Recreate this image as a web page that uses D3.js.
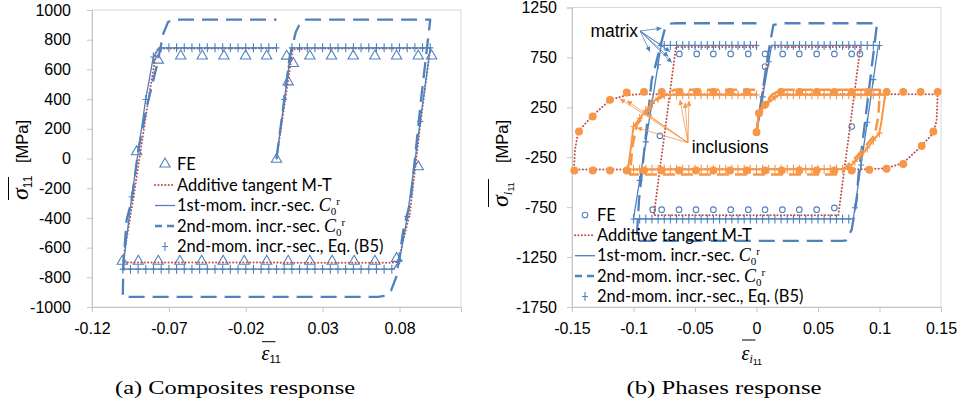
<!DOCTYPE html>
<html>
<head>
<meta charset="utf-8">
<script src="https://cdn.jsdelivr.net/npm/d3@7"></script>
<style>
  body { margin: 0; background: #fff; }
  svg { display: block; }
</style>
</head>
<body>
<svg id="chart" width="962" height="407"></svg>
<script>
// ---------- (a) composite response: [strain, stress MPa] ----------
const compFE = [
  [0,-5],[0.0076,516],[0.0109,640],
  [0.0217,690],[0.0358,690],[0.0499,690],[0.064,690],[0.0781,690],[0.0922,690],[0.1009,690],
  [0.0922,-56],[0.0781,-673],
  [0.064,-692],[0.0505,-692],[0.0362,-692],[0.0217,-692],[0.0076,-692],[-0.0064,-692],[-0.021,-692],
  [-0.0347,-692],[-0.0487,-692],[-0.0628,-692],[-0.0769,-692],[-0.0899,-692],[-0.1003,-692],
  [-0.091,45],[-0.0769,662],
  [-0.0623,690],[-0.0483,690],[-0.0342,690],[-0.0201,690],[-0.0064,690],[0.0066,689]
];
const compMT = [
  [0,0],[0.0105,735],[0.02,740],[0.1,742],[0.0937,246],[0.0867,-370],[0.079,-696],[0.074,-702],
  [-0.1,-700],[-0.093,-258],[-0.0834,393],[-0.078,729],[-0.0765,740],[0,742]
];
const comp1st = [
  [0,0],[0.0096,745],[0.1,745],[0.0935,250],[0.0851,-390],[0.0801,-684],[0.0765,-742],[0.075,-745],
  [-0.1,-745],[-0.0942,-258],[-0.0851,397],[-0.0801,684],[-0.0765,742],[-0.075,745],[0,745]
];
const comp2nd = [
  [0,0],[0.005,395],[0.0085,680],[0.0125,850],[0.0155,915],[0.019,935],[0.1,935],
  [0.094,395],[0.0872,-283],[0.0825,-483],[0.0779,-797],[0.0745,-890],[0.0705,-925],[0.066,-932],
  [-0.1,-932],[-0.0995,-700],[-0.0975,-415],[-0.0942,-281],[-0.0899,56],[-0.0844,347],[-0.078,617],
  [-0.0736,842],[-0.0705,920],[-0.066,935],[0,935]
];
const compB5 = [
  [0.005,397],
  [0.010,745],[0.015,745],[0.020,745],[0.025,745],[0.030,745],[0.035,745],[0.040,745],[0.045,745],
  [0.050,745],[0.055,745],[0.060,745],[0.065,745],[0.070,745],[0.075,745],[0.080,745],[0.085,745],
  [0.090,745],[0.095,745],[0.100,745],
  [0.0935,250],[0.0851,-390],[0.0801,-684],
  [0.075,-745],[0.070,-745],[0.065,-745],[0.060,-745],[0.055,-745],[0.050,-745],[0.045,-745],[0.040,-745],
  [0.035,-745],[0.030,-745],[0.025,-745],[0.020,-745],[0.015,-745],[0.010,-745],[0.005,-745],[0.000,-745],
  [-0.005,-745],[-0.010,-745],[-0.015,-745],[-0.020,-745],[-0.025,-745],[-0.030,-745],[-0.035,-745],
  [-0.040,-745],[-0.045,-745],[-0.050,-745],[-0.055,-745],[-0.060,-745],[-0.065,-745],[-0.070,-745],
  [-0.075,-745],[-0.080,-745],[-0.085,-745],[-0.090,-745],[-0.095,-745],[-0.100,-745],
  [-0.0942,-258],[-0.0851,397],[-0.0801,684],
  [-0.075,745],[-0.070,745],[-0.065,745],[-0.060,745],[-0.055,745],[-0.050,745],[-0.045,745],[-0.040,745],
  [-0.035,745],[-0.030,745],[-0.025,745],[-0.020,745],[-0.015,745],[-0.010,745],[-0.005,745],[0.000,745]
];

// ---------- (b) phase responses: matrix ----------
const matFE = [
  [0,0],[0.0069,658],
  [-0.0627,785],[-0.0486,785],[-0.0351,785],[-0.021,785],[-0.0067,785],[0.0069,785],[0.0213,785],
  [0.0348,785],[0.0489,785],[0.0633,785],[0.0774,785],[0.0841,785],
  [0.0774,58],[0.0633,-758],
  [0.0489,-775],[0.0348,-775],[0.021,-775],[0.0069,-775],[-0.0067,-775],[-0.021,-775],[-0.0351,-775],
  [-0.0492,-775],[-0.063,-775],[-0.0771,-775],[-0.0844,-775],
  [-0.0785,-35]
];
const matMT = [
  [0,0],[0.0105,855],[0.0845,855],[0.0665,-832],[-0.0835,-832],[-0.0655,855],[0,855]
];
const mat1st = [
  [0,0],[0.0123,870],[0.099,870],[0.0787,-868],[-0.1,-868],[-0.0775,870],[0,870]
];
const mat2nd = [
  [0,0],[0.0096,792],[0.0137,1075],[0.0205,1092],[0.098,1092],[0.0977,1058],[0.0828,-442],
  [0.0815,-675],[0.0774,-975],[0.073,-1082],[0.07,-1087],[-0.0975,-1087],[-0.0955,-675],
  [-0.0852,524],[-0.0744,1042],[-0.0703,1088],[-0.067,1092],[0,1092]
];
const matB5 = [
  [0.005,355],[0.010,707],
  [0.015,870],[0.020,870],[0.025,870],[0.030,870],[0.035,870],[0.040,870],[0.045,870],[0.050,870],
  [0.055,870],[0.060,870],[0.065,870],[0.070,870],[0.075,870],[0.080,870],[0.085,870],[0.090,870],
  [0.095,870],[0.100,870],
  [0.095,528],[0.090,100],[0.085,-328],[0.080,-756],
  [0.075,-868],[0.070,-868],[0.065,-868],[0.060,-868],[0.055,-868],[0.050,-868],[0.045,-868],[0.040,-868],
  [0.035,-868],[0.030,-868],[0.025,-868],[0.020,-868],[0.015,-868],[0.010,-868],[0.005,-868],[0.000,-868],
  [-0.005,-868],[-0.010,-868],[-0.015,-868],[-0.020,-868],[-0.025,-868],[-0.030,-868],[-0.035,-868],
  [-0.040,-868],[-0.045,-868],[-0.050,-868],[-0.055,-868],[-0.060,-868],[-0.065,-868],[-0.070,-868],
  [-0.075,-868],[-0.080,-868],[-0.085,-868],[-0.090,-868],[-0.095,-868],[-0.100,-868],
  [-0.095,-482],[-0.090,-96],[-0.085,290],[-0.080,676],
  [-0.075,870],[-0.070,870],[-0.065,870],[-0.060,870],[-0.055,870],[-0.050,870],[-0.045,870],[-0.040,870],
  [-0.035,870],[-0.030,870],[-0.025,870],[-0.020,870],[-0.015,870],[-0.010,870],[-0.005,870],[0.000,870]
];

// ---------- (b) phase responses: inclusions ----------
const incFE = [
  [0,0],[0.002,190],[0.0069,275],
  [0.0199,405],[0.0348,405],[0.0489,405],[0.0633,405],[0.0774,405],[0.0909,405],[0.1058,405],
  [0.1193,405],[0.1334,405],[0.1473,405],
  [0.1438,8],[0.1343,-137],[0.1193,-317],
  [0.1058,-365],[0.0917,-375],[0.0774,-382],[0.0633,-382],[0.0489,-382],[0.0348,-382],[0.0205,-382],
  [0.0069,-382],[-0.0079,-382],[-0.0215,-382],[-0.0351,-382],[-0.0492,-382],[-0.063,-382],
  [-0.0771,-382],[-0.0915,-382],[-0.1055,-382],[-0.1191,-382],[-0.1331,-382],[-0.1481,-382],
  [-0.1443,8],[-0.1332,158],[-0.1191,325],[-0.1055,398],
  [-0.0915,405],[-0.0771,405],[-0.0628,405],[-0.0486,405],[-0.0351,405],[-0.0215,405],[-0.0079,405]
];
const incMT = [
  [0,0],[0.002,190],[0.0069,285],[0.015,360],[0.022,380],[0.1473,380],[0.1465,125],[0.1438,-8],
  [0.133,-150],[0.1193,-308],[0.1058,-360],[0.09,-370],[-0.1484,-372],[-0.1476,-175],[-0.1449,8],
  [-0.134,158],[-0.119,325],[-0.1055,373],[-0.095,380],[0,380]
];
const inc1st = [
  [0,0],[0.002,190],[0.0069,275],[0.0183,375],[0.1045,375],[0.1018,125],[0.0998,-8],[0.088,-190],
  [0.076,-342],[0.072,-368],[-0.1045,-372],[-0.1018,-125],[-0.1,58],[-0.0907,208],[-0.0839,308],
  [-0.0763,372],[-0.072,375],[0,375]
];
const inc2nd = [
  [0,0],[0.002,190],[0.0069,290],[0.013,380],[0.02,425],[0.1004,425],[0.099,150],[0.096,-30],
  [0.0815,-242],[0.0733,-342],[0.069,-410],[0.065,-422],[-0.1028,-422],[-0.101,-150],[-0.0974,75],
  [-0.0811,325],[-0.0703,400],[-0.067,425],[0,425]
];
const incB5 = [
  [0.005,245],[0.010,310],[0.015,355],
  [0.020,375],[0.025,375],[0.030,375],[0.035,375],[0.040,375],[0.045,375],[0.050,375],[0.055,375],
  [0.060,375],[0.065,375],[0.070,375],[0.075,375],[0.080,375],[0.085,375],[0.090,375],[0.095,375],
  [0.100,375],[0.105,375],
  [0.100,-8],[0.095,-82],[0.090,-158],[0.085,-228],[0.080,-291],[0.075,-349],
  [0.070,-370],[0.065,-370],[0.060,-370],[0.055,-370],[0.050,-370],[0.045,-370],[0.040,-370],[0.035,-370],
  [0.030,-370],[0.025,-370],[0.020,-370],[0.015,-370],[0.010,-370],[0.005,-370],[0.000,-370],
  [-0.005,-370],[-0.010,-370],[-0.015,-370],[-0.020,-370],[-0.025,-370],[-0.030,-370],[-0.035,-370],
  [-0.040,-370],[-0.045,-370],[-0.050,-370],[-0.055,-370],[-0.060,-370],[-0.065,-370],[-0.070,-370],
  [-0.075,-370],[-0.080,-370],[-0.085,-370],[-0.090,-370],[-0.095,-370],[-0.100,-370],[-0.105,-370],
  [-0.100,58],[-0.095,139],[-0.090,218],[-0.085,291],[-0.080,342],
  [-0.075,375],[-0.070,375],[-0.065,375],[-0.060,375],[-0.055,375],[-0.050,375],[-0.045,375],[-0.040,375],
  [-0.035,375],[-0.030,375],[-0.025,375],[-0.020,375],[-0.015,375],[-0.010,375],[-0.005,375],[0.000,375]
];

// ---------- axes ----------
const xTicksA = [-0.12, -0.07, -0.02, 0.03, 0.08];
const xTickLabelsA = ["-0.12", "-0.07", "-0.02", "0.03", "0.08"];
const yTicksA = [-1000, -800, -600, -400, -200, 0, 200, 400, 600, 800, 1000];
const xTicksB = [-0.15, -0.1, -0.05, 0, 0.05, 0.1, 0.15];
const xTickLabelsB = ["-0.15", "-0.1", "-0.05", "0", "0.05", "0.1", "0.15"];
const yTicksB = [-1750, -1250, -750, -250, 250, 750, 1250];

// ---------- legend and annotations ----------
const legendLabels = ["FE", "Additive tangent M-T", "1st-mom. incr.-sec. ", "2nd-mom. incr.-sec. ", "2nd-mom. incr.-sec., Eq. (B5)"];
const captions = ["(a) Composites response", "(b) Phases response"];
// arrow tails and heads in [strain, stress]
const matrixLabel = { text: "matrix", at: [-0.0963, 955], from: [-0.0947, 1015] };
const matrixTargets = [[-0.0771,1042],[-0.0758,858],[-0.0866,808],[-0.0703,808],[-0.0689,698],[-0.0717,758]];
const inclLabel = { text: "inclusions", at: [-0.0527, -205], from: [-0.0557, -105] };
const inclTargets = [[-0.111,335],[-0.1053,315],[-0.0972,45],[-0.089,185],[-0.0622,325],[-0.0581,295],[-0.0549,315]];

// ---------- styling ----------
const BLUE = "#4f81bd", ORANGE = "#f79646", RED = "#c0504d", GRID = "#c6c6c6";
const SANS = "'Liberation Sans', Arial, sans-serif";
const LEG = "Lato, 'Open Sans', sans-serif";
const SERIF = "'Liberation Serif', 'Times New Roman', serif";

const svg = d3.select("#chart");
const defs = svg.append("defs");
[["headBlue", BLUE], ["headOrange", ORANGE]].forEach(([id, c]) => {
  defs.append("marker").attr("id", id).attr("viewBox", "0 0 10 10")
    .attr("refX", 10).attr("refY", 5).attr("markerWidth", 6).attr("markerHeight", 5)
    .attr("markerUnits", "userSpaceOnUse").attr("orient", "auto")
    .append("path").attr("d", "M0,0L10,5L0,10z").attr("fill", c);
});

const panels = {
  a: { x: d3.scaleLinear().domain([-0.12, 0.12]).range([92, 461]),
       y: d3.scaleLinear().domain([-1000, 1000]).range([307, 10]) },
  b: { x: d3.scaleLinear().domain([-0.15, 0.15]).range([572, 941]),
       y: d3.scaleLinear().domain([-1750, 1250]).range([307, 7.5]) }
};

function frame(p, id, xt, xl, yt, yPad) {
  const [x0, x1] = p.x.range(), [y1, y0] = p.y.range();
  defs.append("clipPath").attr("id", id).append("rect")
    .attr("x", x0).attr("y", y0).attr("width", x1 - x0).attr("height", y1 - y0);
  svg.append("rect").attr("x", x0).attr("y", y0).attr("width", x1 - x0).attr("height", y1 - y0)
    .attr("fill", "none").attr("stroke", "#d9d9d9").attr("stroke-width", 1);
  const gx = svg.append("g").attr("transform", `translate(0,${y1})`)
    .call(d3.axisBottom(p.x).tickValues(xt).tickFormat((d, i) => xl[i]).tickSize(5).tickPadding(10.5));
  const gy = svg.append("g").attr("transform", `translate(${x0},0)`)
    .call(d3.axisLeft(p.y).tickValues(yt).tickFormat(d => String(d)).tickSize(5).tickPadding(yPad));
  [gx, gy].forEach(g => {
    g.select(".domain").attr("stroke", GRID);
    g.selectAll(".tick line").attr("stroke", GRID);
    g.selectAll(".tick text").attr("font-family", SANS).attr("font-size", 16).attr("fill", "#000");
  });
}
frame(panels.a, "clipA", xTicksA, xTickLabelsA, yTicksA, 16);
frame(panels.b, "clipB", xTicksB, xTickLabelsB, yTicksB, 10);

const styles = {
  mt:     { stroke: RED, width: 2, dash: "0.1 3.3", cap: "round" },
  first:  { stroke: BLUE, width: 1.3 },
  second: { stroke: BLUE, width: 2.3, dash: "16 8" },
  first2: { stroke: ORANGE, width: 2 },
  second2:{ stroke: ORANGE, width: 2.5, dash: "12 6" }
};

function drawLine(p, clip, data, st) {
  const line = d3.line().x(d => p.x(d[0])).y(d => p.y(d[1]));
  svg.append("path").datum(data).attr("clip-path", `url(#${clip})`)
    .attr("d", line).attr("fill", "none")
    .attr("stroke", st.stroke).attr("stroke-width", st.width)
    .attr("stroke-dasharray", st.dash || null).attr("stroke-linecap", st.cap || "butt")
    .attr("stroke-linejoin", "round");
}
function drawCrosses(p, data, color) {
  svg.append("g").selectAll("path").data(data).join("path")
    .attr("transform", d => `translate(${p.x(d[0])},${p.y(d[1])})`)
    .attr("d", "M-3,0H3M0,-4.5V4.5").attr("stroke", color).attr("stroke-width", 1.1).attr("fill", "none");
}
function drawTriangles(p, data) {
  const sym = d3.symbol(d3.symbolTriangle, 46);
  svg.append("g").selectAll("path").data(data).join("path")
    .attr("transform", d => `translate(${p.x(d[0])},${p.y(d[1])})`)
    .attr("d", sym).attr("fill", "none").attr("stroke", BLUE).attr("stroke-width", 1.1);
}
function drawCircles(p, data, color, filled) {
  svg.append("g").selectAll("circle").data(data).join("circle")
    .attr("cx", d => p.x(d[0])).attr("cy", d => p.y(d[1])).attr("r", filled ? 3.4 : 2.8)
    .attr("fill", filled ? color : "none").attr("stroke", color).attr("stroke-width", 1.1);
}

// panel (a)
const A = panels.a;
drawTriangles(A, compFE);
drawLine(A, "clipA", compMT, styles.mt);
drawLine(A, "clipA", comp1st, styles.first);
drawLine(A, "clipA", comp2nd, styles.second);
drawCrosses(A, compB5, BLUE);

// panel (b)
const B = panels.b;
drawCircles(B, matFE, BLUE, false);
drawLine(B, "clipB", matMT, styles.mt);
drawLine(B, "clipB", incMT, styles.mt);
drawLine(B, "clipB", mat1st, styles.first);
drawLine(B, "clipB", mat2nd, styles.second);
drawLine(B, "clipB", inc1st, styles.first2);
drawLine(B, "clipB", inc2nd, styles.second2);
drawCrosses(B, matB5, BLUE);
drawCrosses(B, incB5, ORANGE);
drawCircles(B, incFE, ORANGE, true);

// annotations with arrows
function annotate(p, lab, targets, color, head, anchor) {
  const g = svg.append("g");
  targets.forEach(t => {
    g.append("line").attr("x1", p.x(lab.from[0])).attr("y1", p.y(lab.from[1]))
      .attr("x2", p.x(t[0])).attr("y2", p.y(t[1]))
      .attr("stroke", color).attr("stroke-width", 0.8).attr("marker-end", `url(#${head})`);
  });
  g.append("text").attr("x", p.x(lab.at[0])).attr("y", p.y(lab.at[1]))
    .attr("text-anchor", anchor).attr("font-family", SANS).attr("font-size", 17.5).text(lab.text);
}
annotate(B, matrixLabel, matrixTargets, BLUE, "headBlue", "end");
annotate(B, inclLabel, inclTargets, ORANGE, "headOrange", "start");

// legends
function legend(x0, rows, feKind) {
  const g = svg.append("g");
  const mid = x0 + 10;
  rows.forEach((y, i) => {
    if (i === 0) {
      if (feKind === "tri") g.append("path").attr("transform", `translate(${mid},${y})`)
        .attr("d", d3.symbol(d3.symbolTriangle, 46)).attr("fill", "none").attr("stroke", BLUE).attr("stroke-width", 1.1);
      else g.append("circle").attr("cx", mid).attr("cy", y).attr("r", 2.8)
        .attr("fill", "none").attr("stroke", BLUE).attr("stroke-width", 1.1);
    } else if (i === 4) {
      g.append("path").attr("transform", `translate(${mid},${y})`).attr("d", "M-3,0H3M0,-4.5V4.5")
        .attr("stroke", BLUE).attr("stroke-width", 1.1);
    } else {
      const st = [null, styles.mt, styles.first, { stroke: BLUE, width: 2.3, dash: "7 5" }][i];
      g.append("line").attr("x1", x0).attr("x2", x0 + 20).attr("y1", y).attr("y2", y)
        .attr("stroke", st.stroke).attr("stroke-width", st.width)
        .attr("stroke-dasharray", st.dash || null).attr("stroke-linecap", st.cap || "butt");
    }
    const t = g.append("text").attr("x", x0 + 22).attr("y", y + 5.5)
      .attr("font-family", LEG).attr("font-size", 16.5);
    t.append("tspan").text(legendLabels[i]);
    if (i === 2 || i === 3) {
      t.append("tspan").attr("font-family", SERIF).attr("font-style", "italic").attr("font-size", 18).text("C");
      t.append("tspan").attr("font-family", SERIF).attr("font-size", 11).attr("dy", 4).text("0");
      t.append("tspan").attr("font-family", SERIF).attr("font-size", 11).attr("dy", -10).text("r");
    }
  });
}
legend(155, [164, 185, 205.5, 226, 246.5], "tri");
legend(575, [215, 235.3, 255.7, 276, 296.5], "circ");

// axis titles: rotated σ with subscript, overline, and the unit ending at a fixed height
function yTitle(x, y, subParts, unitEnd, olLen) {
  const g = svg.append("g").attr("transform", `translate(${x},${y}) rotate(-90)`);
  const t = g.append("text").attr("x", 0).attr("y", 0);
  t.append("tspan").attr("font-family", SERIF).attr("font-style", "italic").attr("font-size", 24).text("σ");
  subParts.forEach(s => t.append("tspan").attr("font-family", s.f).attr("font-style", s.it ? "italic" : null)
    .attr("font-size", s.size).attr("dy", s.dy).text(s.t));
  g.append("text").attr("x", unitEnd).attr("y", 0).attr("text-anchor", "end")
    .attr("font-family", SANS).attr("font-size", 16.5).text("[MPa]");
  g.append("line").attr("x1", 0).attr("x2", olLen).attr("y1", -19).attr("y2", -19)
    .attr("stroke", "#000").attr("stroke-width", 1);
}
yTitle(27.5, 200, [{ t: "11", f: SANS, size: 12, dy: 4 }], 80, 23);
yTitle(507.5, 207, [{ t: "i", f: SERIF, it: true, size: 13, dy: 4 }, { t: "11", f: SANS, size: 9, dy: 2 }], 87, 28);

function xTitle(x, y, subParts, olY) {
  const t = svg.append("text").attr("x", x).attr("y", y).attr("font-family", SANS);
  t.append("tspan").attr("font-family", SERIF).attr("font-style", "italic").attr("font-size", 20).text("ε");
  subParts.forEach(s => t.append("tspan").attr("font-family", s.f).attr("font-style", s.it ? "italic" : null)
    .attr("font-size", s.size).attr("dy", s.dy).text(s.t));
  svg.append("line").attr("x1", x + 0.5).attr("x2", x + 14).attr("y1", olY).attr("y2", olY)
    .attr("stroke", "#000").attr("stroke-width", 1);
}
xTitle(261.5, 360, [{ t: "11", f: SANS, size: 11, dy: 3 }], 341.7);
xTitle(741.5, 360, [{ t: "i", f: SERIF, it: true, size: 12, dy: 3 }, { t: "11", f: SANS, size: 9, dy: 2 }], 340);

// captions
[[235, captions[0], 240], [724, captions[1], 195]].forEach(([cx, txt, w]) => {
  svg.append("text").attr("x", cx - w / 2).attr("y", 393.5).attr("font-family", SERIF)
    .attr("font-size", 18.5).attr("textLength", w).attr("lengthAdjust", "spacingAndGlyphs").text(txt);
});
</script>
</body>
</html>
